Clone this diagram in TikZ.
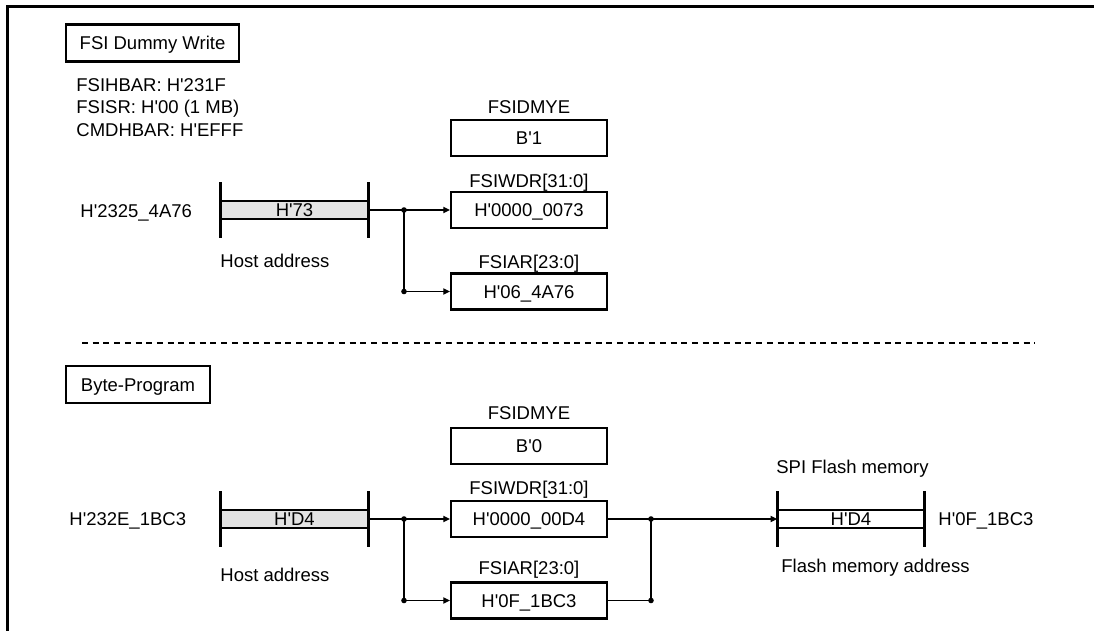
\documentclass[tikz,border=0pt]{standalone}
\usepackage{fontspec}
\setmainfont{Liberation Sans}
\usetikzlibrary{arrows.meta,positioning}
\newcommand{\hx}{H\textquotesingle}
\newcommand{\bn}{B\textquotesingle}

\begin{document}
\begin{tikzpicture}[x=0.5pt,y=-0.5pt,
  every node/.style={font=\fontsize{9.25}{11}\selectfont,inner sep=0pt,text height=6.6pt,text depth=0pt},
  txt/.style={anchor=west},
  titlebox/.style={draw,line width=1.1pt,minimum height=18.5pt},
  regbox/.style={draw,line width=1.1pt,minimum width=78pt,minimum height=18pt},
  band/.style={draw,line width=0.75pt,minimum width=73.5pt,minimum height=9pt},
  bar/.style={line width=1.5pt},
  wire/.style={line width=0.65pt},
  feed/.style={wire,-{Triangle[length=3.3pt,width=3.1pt]}}]
  \useasboundingbox (0,0) rectangle (1094,631);
  \draw[line width=1.5pt] (7,631) -- (7,7) -- (1094,7);

  % upper half: dummy write
  \node[titlebox,minimum width=86.5pt] (dw) at (152.5,43) {FSI Dummy Write};
  \node[txt] (hbar1) at (76,85) {FSIHBAR: \hx231F};
  \node[txt] (sr1) at (76,107) {FSISR: \hx00 (1 MB)};
  \node[txt] (cmd1) at (76,130) {CMDHBAR: \hx EFFF};
  \node[txt] (ha1) at (80,211) {\hx2325\_4A76};
  \node[band,fill=gray!22] (hreg1) at (294.5,210) {\hx73};
  \draw[bar] ([yshift=9pt]hreg1.north west) -- ([yshift=-9pt]hreg1.south west);
  \draw[bar] ([yshift=9pt]hreg1.north east) -- ([yshift=-9pt]hreg1.south east);
  \node[txt] (hlab1) at (220,261) {Host address};
  \node[regbox] (dmy1) at (529,138) {\bn1};
  \node (dmylab1) at (529,107) {FSIDMYE};
  \node[regbox] (wdr1) at (529,210) {\hx0000\_0073};
  \node (wdrlab1) at (529,181) {FSIWDR[31:0]};
  \node[regbox] (iar1) at (529,291.5) {\hx06\_4A76};
  \node (iarlab1) at (529,262) {FSIAR[23:0]};
  \coordinate (j1) at (404,210);
  \draw[wire] (hreg1.east) -- (j1);
  \draw[feed] (j1) -- (wdr1.west);
  \draw[feed] (j1) |- (iar1.west);
  \fill (j1) circle (1.4pt);
  \fill (j1 |- iar1.west) circle (1.4pt);

  \draw[line width=1pt,dash pattern=on 3pt off 2.35pt] (82,343) -- (1035,343);

  % lower half: byte program
  \node[titlebox,minimum width=72pt] (bp) at (138,384.5) {Byte-Program};
  \node[txt] (ha2) at (69,519) {\hx232E\_1BC3};
  \node[band,fill=gray!22] (hreg2) at (294.5,519) {\hx D4};
  \draw[bar] ([yshift=9pt]hreg2.north west) -- ([yshift=-9pt]hreg2.south west);
  \draw[bar] ([yshift=9pt]hreg2.north east) -- ([yshift=-9pt]hreg2.south east);
  \node[txt] (hlab2) at (220,575) {Host address};
  \node[regbox] (dmy2) at (529,446) {\bn0};
  \node (dmylab2) at (529,413) {FSIDMYE};
  \node[regbox] (wdr2) at (529,519) {\hx0000\_00D4};
  \node (wdrlab2) at (529,488) {FSIWDR[31:0]};
  \node[regbox] (iar2) at (529,600.5) {\hx0F\_1BC3};
  \node (iarlab2) at (529,568) {FSIAR[23:0]};
  \node[band,minimum width=73pt] (spi) at (851,519) {\hx D4};
  \draw[bar] ([yshift=9pt]spi.north west) -- ([yshift=-9pt]spi.south west);
  \draw[bar] ([yshift=9pt]spi.north east) -- ([yshift=-9pt]spi.south east);
  \node[txt] (spilab) at (776,467) {SPI Flash memory};
  \node[txt] (fa) at (938,519) {\hx0F\_1BC3};
  \node[txt] (falab) at (781,566) {Flash memory address};
  \coordinate (j2) at (404,519);
  \coordinate (j3) at (651,519);
  \draw[wire] (hreg2.east) -- (j2);
  \draw[feed] (j2) -- (wdr2.west);
  \draw[feed] (j2) |- (iar2.west);
  \draw[wire] (wdr2.east) -- (j3);
  \draw[wire] (iar2.east) -| (j3);
  \draw[feed] (j3) -- (spi.west);
  \foreach \p in {j2,j3} \fill (\p) circle (1.4pt);
  \fill (j2 |- iar2.west) circle (1.4pt);
  \fill (j3 |- iar2.east) circle (1.4pt);
\end{tikzpicture}
\end{document}
